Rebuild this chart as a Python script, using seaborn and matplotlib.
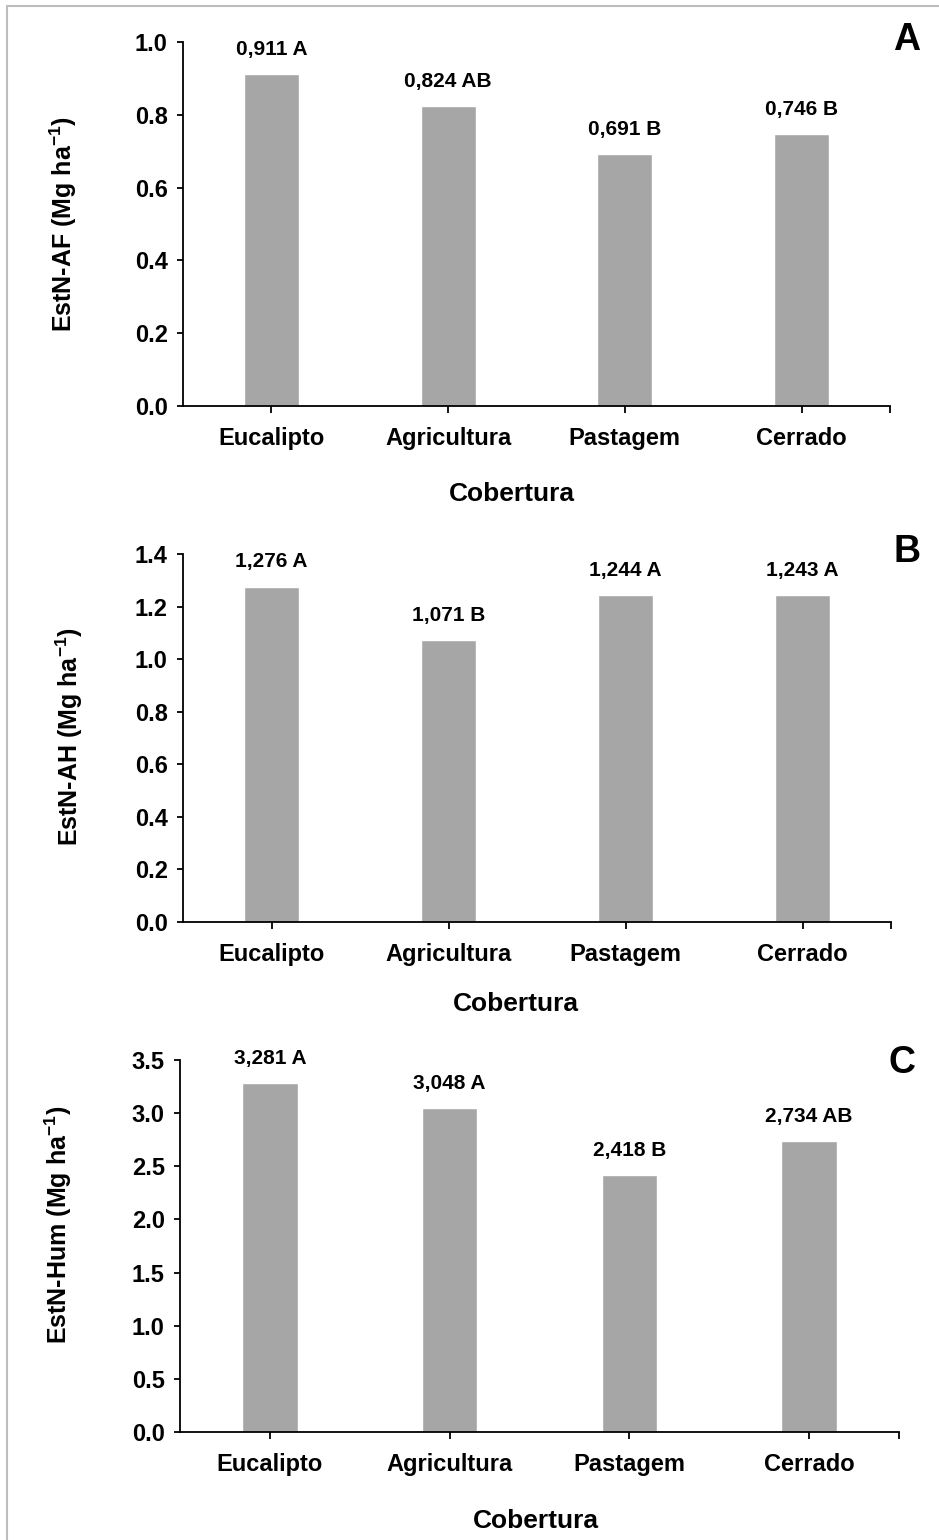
import numpy as np
import pandas as pd
import matplotlib
matplotlib.use("Agg")
import matplotlib.pyplot as plt
from matplotlib.lines import Line2D
import seaborn as sns

# ── data ────────────────────────────────────────────────
categorias = ["Eucalipto", "Agricultura", "Pastagem", "Cerrado"]
af_vals = [0.911, 0.824, 0.691, 0.746]
af_letras = ["A", "AB", "B", "B"]
ah_vals = [1.276, 1.071, 1.244, 1.243]
ah_letras = ["A", "B", "A", "A"]
hum_vals = [3.281, 3.048, 2.418, 2.734]
hum_letras = ["A", "A", "B", "AB"]

ylabels = ["EstN-AF (Mg ha$^{-1}$)", "EstN-AH (Mg ha$^{-1}$)", "EstN-Hum (Mg ha$^{-1}$)"]
ylims = [1.0, 1.4, 3.5]
ysteps = [0.2, 0.2, 0.5]
paineis = ["A", "B", "C"]

# ── style ───────────────────────────────────────────────
sns.set_style("ticks")
plt.rcParams["font.family"] = ["Liberation Sans", "DejaVu Sans"]
plt.rcParams["font.weight"] = "bold"
plt.rcParams["mathtext.fontset"] = "custom"
plt.rcParams["mathtext.rm"] = "Liberation Sans:bold"
plt.rcParams["mathtext.bf"] = "Liberation Sans:bold"
plt.rcParams["mathtext.default"] = "rm"
for k in ["text.color", "axes.labelcolor", "xtick.color", "ytick.color", "axes.edgecolor"]:
    plt.rcParams[k] = "black"

W, H = 939, 1540
fig = plt.figure(figsize=(W / 100, H / 100), dpi=100)

# axes boxes in pixels: left, right, top, bottom
boxes = [(183, 890, 42, 406), (183, 891, 554, 922), (180, 899, 1060, 1432)]
ylab_pos = [(-0.147, 0.5), (-0.138, 0.503), (-0.147, 0.556)]
xlab_pos = [(0.465, -0.21), (0.470, -0.19), (0.495, -0.207)]
letra_pos = [(907, 40), (907, 552), (902, 1063)]

series = [(af_vals, af_letras), (ah_vals, ah_letras), (hum_vals, hum_letras)]

for i, (vals, letras) in enumerate(series):
    l, r, t, b = boxes[i]
    ax = fig.add_axes([l / W, 1 - b / H, (r - l) / W, (b - t) / H])
    df = pd.DataFrame({"Cobertura": categorias, "valor": vals})
    sns.barplot(data=df, x="Cobertura", y="valor", color="#a6a6a6",
                saturation=1, width=0.31, ax=ax, errorbar=None)
    ax.set_xlim(-0.5, 3.5)
    ax.set_ylim(0, ylims[i])
    ax.set_yticks(np.arange(0, ylims[i] + 1e-9, ysteps[i]))
    ax.yaxis.set_major_formatter(matplotlib.ticker.FormatStrFormatter("%.1f"))
    ax.set_xticks(range(4))
    ax.set_xticks([3.5], minor=True)
    ax.set_xticklabels(categorias)

    for s in ["top", "right"]:
        ax.spines[s].set_visible(False)
    for s in ["left", "bottom"]:
        ax.spines[s].set_linewidth(1.3)
        ax.spines[s].set_color("black")
    ax.tick_params(axis="x", which="both", direction="out", length=5,
                   width=1.3, pad=10, labelsize=17, colors="black")
    ax.tick_params(axis="y", direction="out", length=4, width=1.3,
                   pad=7, labelsize=17, colors="black")
    for lab in ax.get_xticklabels() + ax.get_yticklabels():
        lab.set_fontweight("bold")

    rotulos = [f"{v:.3f}".replace(".", ",") + " " + le for v, le in zip(vals, letras)]
    ax.bar_label(ax.containers[0], labels=rotulos, padding=11,
                 fontsize=15, fontweight="bold", color="black")

    ax.set_ylabel(ylabels[i], fontsize=18, fontweight="bold")
    ax.yaxis.set_label_coords(*ylab_pos[i])
    ax.set_xlabel("Cobertura", fontsize=19, fontweight="bold")
    ax.xaxis.set_label_coords(*xlab_pos[i])

    fig.text(letra_pos[i][0] / W, 1 - letra_pos[i][1] / H, paineis[i],
             fontsize=27, fontweight="bold", ha="center", va="center")

# thin gray frame (left and top edges)
fig.add_artist(Line2D([7 / W, 7 / W], [0, 1 - 6 / H], color="#bdbdbd", lw=1.5))
fig.add_artist(Line2D([7 / W, 1], [1 - 6 / H, 1 - 6 / H], color="#bdbdbd", lw=1.5))

fig.savefig("out.png", dpi=100)
plt.close(fig)
